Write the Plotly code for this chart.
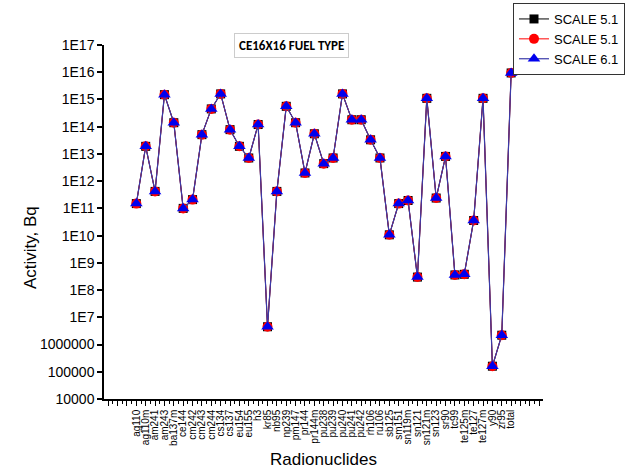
import plotly.graph_objects as go

nuclides = ["ag110", "ag110m", "am241", "am243", "ba137m", "ce144", "cm242", "cm243", "cm244",
            "cs134", "cs137", "eu154", "eu155", "h3", "kr85", "nb95", "np239", "pm147", "pr144",
            "pr144m", "pu238", "pu239", "pu240", "pu241", "pu242", "rh106", "ru106", "sb125",
            "sm151", "sn119m", "sn121", "sn121m", "sn123", "sr90", "tc99", "te125m", "te127",
            "te127m", "y90", "zr95", "total"]

scale51_a = [1.5e11, 1.9e13, 4.2e11, 1.5e15, 1.4e14, 1.0e11, 2.1e11, 5.1e13, 4.5e14,
             1.6e15, 7.8e13, 1.9e13, 7.1e12, 1.2e14, 4.5e6, 4.2e11, 5.6e14, 1.4e14, 2.0e12,
             5.5e13, 4.4e12, 7.1e12, 1.6e15, 1.8e14, 1.8e14, 3.3e13, 7.1e12, 1.07e10,
             1.5e11, 1.95e11, 3.0e8, 1.1e15, 2.4e11, 8.1e12, 3.6e8, 3.8e8, 3.6e10,
             1.1e15, 1.6e5, 2.2e6, 9.4e15]
scale51_b = list(scale51_a)
scale61 = list(scale51_a)

y_tickvals = [10.0 ** k for k in range(4, 18)]
y_ticktext = ["10000", "100000", "1000000"] + ["1E%d" % k for k in range(7, 18)]

x_idx = list(range(len(nuclides)))

fig = go.Figure()
fig.add_trace(go.Scatter(x=x_idx, y=scale51_a, mode="lines+markers", name="SCALE 5.1",
                         line=dict(color="black", width=1),
                         marker=dict(symbol="square", size=9, color="black")))
fig.add_trace(go.Scatter(x=x_idx, y=scale51_b, mode="lines+markers", name="SCALE 5.1",
                         line=dict(color="red", width=1),
                         marker=dict(symbol="circle", size=10, color="red")))
fig.add_trace(go.Scatter(x=x_idx, y=scale61, mode="lines+markers", name="SCALE 6.1",
                         line=dict(color="#3a3aa8", width=1.2),
                         marker=dict(symbol="triangle-up", size=11, color="#0000ee")))

xtv = list(range(-3, 44))
xtt = [nuclides[i] if 0 <= i < len(nuclides) else "" for i in xtv]

fig.update_layout(
    width=627, height=473,
    margin=dict(l=104, r=84, t=45, b=74, autoexpand=False),
    paper_bgcolor="white", plot_bgcolor="white",
    font=dict(family="Arial, Liberation Sans, sans-serif", color="black"),
    showlegend=True,
    legend=dict(x=(513 - 104) / 439, y=(399 - 3) / 354, xanchor="left", yanchor="top",
                bordercolor="#333333", borderwidth=1, bgcolor="white",
                font=dict(size=13), tracegroupgap=0, itemwidth=30),
    xaxis=dict(range=[-3.45, 43.4], tickmode="array", tickvals=xtv, ticktext=xtt,
               tickangle=-90, tickfont=dict(size=10), ticks="outside", ticklen=5,
               tickwidth=1, tickcolor="black", showline=True, linecolor="black",
               linewidth=1.5, showgrid=False, zeroline=False, automargin=False,
               minor=dict(dtick=0.5, tick0=0, ticks="outside", ticklen=3,
                          tickcolor="black", showgrid=False),
               title=dict(text="Radionuclides", font=dict(size=17), standoff=8)),
    yaxis=dict(type="log", range=[4, 17], tickmode="array", tickvals=y_tickvals,
               ticktext=y_ticktext, tickfont=dict(size=14), ticks="outside", ticklen=5,
               tickwidth=1.5, tickcolor="black", showline=True, linecolor="black",
               linewidth=1.5, showgrid=False, zeroline=False, automargin=False,
               minor=dict(ticks="outside", ticklen=3, tickcolor="black", showgrid=False)),
    annotations=[
        dict(text="<b>CE16X16 FUEL TYPE</b>", xref="paper", yref="paper",
             x=(291 - 104) / 439, y=(399 - 45) / 354, xanchor="center", yanchor="middle",
             showarrow=False, font=dict(size=13, family="Carlito, Calibri, Liberation Sans, sans-serif"),
             bordercolor="#cccccc", borderwidth=1, borderpad=4, bgcolor="white"),
        dict(text="Activity, Bq", xref="paper", yref="paper",
             x=(30 - 104) / 439, y=(399 - 248) / 354, xanchor="center", yanchor="middle",
             textangle=-90, showarrow=False, font=dict(size=17)),
    ],
)

fig.write_html("out.html")
